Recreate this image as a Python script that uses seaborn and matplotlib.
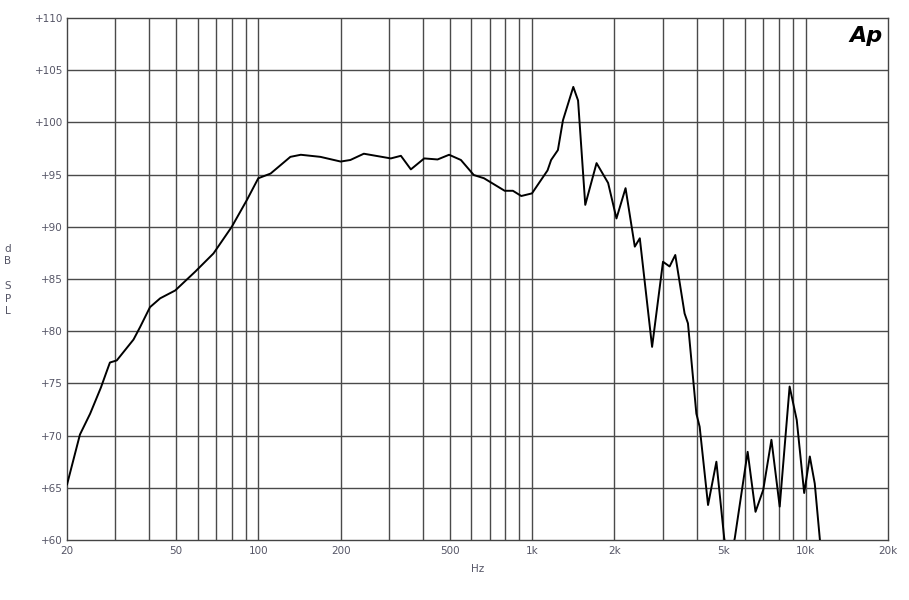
import numpy as np
import pandas as pd
import matplotlib
matplotlib.use("Agg")
import matplotlib.pyplot as plt
import seaborn as sns
from matplotlib.ticker import FixedLocator, NullFormatter

freq_hz = [20, 22.3, 24.3, 26.6, 27.8, 28.7, 30.4, 35, 37, 40.2, 43.8, 49.7, 58.8, 68.6,
           80, 91, 100, 110.9, 131, 143, 168.6, 200, 217, 243, 305, 332, 361, 404, 452,
           498, 550, 613, 668, 795, 852, 914, 1000, 1140, 1175, 1244, 1298, 1416, 1474,
           1566, 1722, 1898, 2036, 2198, 2376, 2478, 2748, 3012, 3184, 3340, 3612, 3716,
           3988, 4100, 4400, 4720, 5040, 5250, 5512, 6140, 6560, 7000, 7500, 8040, 8740,
           9280, 9880, 10360, 10800, 11260, 11800]
spl_db = [65.3, 70.1, 72.1, 74.6, 76.0, 77.0, 77.2, 79.2, 80.4, 82.3, 83.15, 83.9, 85.7, 87.45,
          90.0, 92.6, 94.65, 95.1, 96.7, 96.9, 96.7, 96.25, 96.4, 97.0, 96.55, 96.8, 95.5,
          96.55, 96.45, 96.9, 96.4, 94.96, 94.65, 93.45, 93.45, 92.95, 93.2, 95.4, 96.4,
          97.35, 100.2, 103.4, 102.1, 92.1, 96.1, 94.2, 90.8, 93.7, 88.1, 88.9, 78.5, 86.65,
          86.2, 87.3, 81.7, 80.75, 72.1, 70.85, 63.35, 67.5, 60.2, 57.5, 60.2, 68.45, 62.7,
          64.8, 69.6, 63.2, 74.7, 71.5, 64.5, 68.0, 65.4, 60.2, 55.0]

x_major = [20, 50, 100, 200, 500, 1000, 2000, 5000, 10000, 20000]
x_labels = ["20", "50", "100", "200", "500", "1k", "2k", "5k", "10k", "20k"]
y_major = [60, 65, 70, 75, 80, 85, 90, 95, 100, 105, 110]
y_labels = ["+60", "+65", "+70", "+75", "+80", "+85", "+90", "+95", "+100", "+105", "+110"]

sns.set_style("white")
plt.rcParams['font.family'] = ['DejaVu Sans']

fig = plt.figure(figsize=(9.09, 6.0), dpi=100)
ax = fig.add_axes([67/909, 1-540/600, (888-67)/909, (540-18)/600])

df = pd.DataFrame({"Hz": freq_hz, "dB": spl_db})
sns.lineplot(data=df, x="Hz", y="dB", ax=ax, color="black", linewidth=1.4, zorder=5)

ax.set_xscale("log")
ax.set_xlim(20, 20000)
ax.set_ylim(60, 110)

grid_x = []
for dec in [10, 100, 1000, 10000]:
    for m in range(1, 10):
        v = dec * m
        if 20 < v < 20000:
            grid_x.append(v)
grid_color = "#4a4a4a"
for v in grid_x:
    ax.axvline(v, color=grid_color, linewidth=1.0, zorder=1)
for v in y_major[1:-1]:
    ax.axhline(v, color=grid_color, linewidth=1.0, zorder=1)

ax.xaxis.set_major_locator(FixedLocator(x_major))
ax.set_xticklabels(x_labels)
ax.xaxis.set_minor_locator(FixedLocator([]))
ax.xaxis.set_minor_formatter(NullFormatter())
ax.yaxis.set_major_locator(FixedLocator(y_major))
ax.set_yticklabels(y_labels)
ax.yaxis.set_minor_locator(FixedLocator(list(range(60, 111))))

ax.tick_params(axis="x", which="major", length=0, labelsize=7.5, labelcolor="#555566", pad=4)
ax.tick_params(axis="y", which="major", direction="in", length=5, width=0.8, color="#444444",
               labelsize=7.5, labelcolor="#555566", pad=3)
ax.tick_params(axis="y", which="minor", direction="in", length=3, width=0.8, color="#444444")

for s in ax.spines.values():
    s.set_color("#444444")
    s.set_linewidth(1.0)

ax.set_xlabel("Hz", fontsize=7.5, color="#555566", labelpad=6)
ax.set_ylabel("")
fig.text(8/909, 1-280/600, "d\nB\n\nS\nP\nL", ha="center", va="center",
         fontsize=7.5, color="#555566", linespacing=1.3)

ax.text(0.993, 0.985, "Ap", transform=ax.transAxes, ha="right", va="top",
        fontsize=16, fontweight="bold", fontstyle="italic", color="black", zorder=6)

fig.savefig("out.png", dpi=100, facecolor="white")
